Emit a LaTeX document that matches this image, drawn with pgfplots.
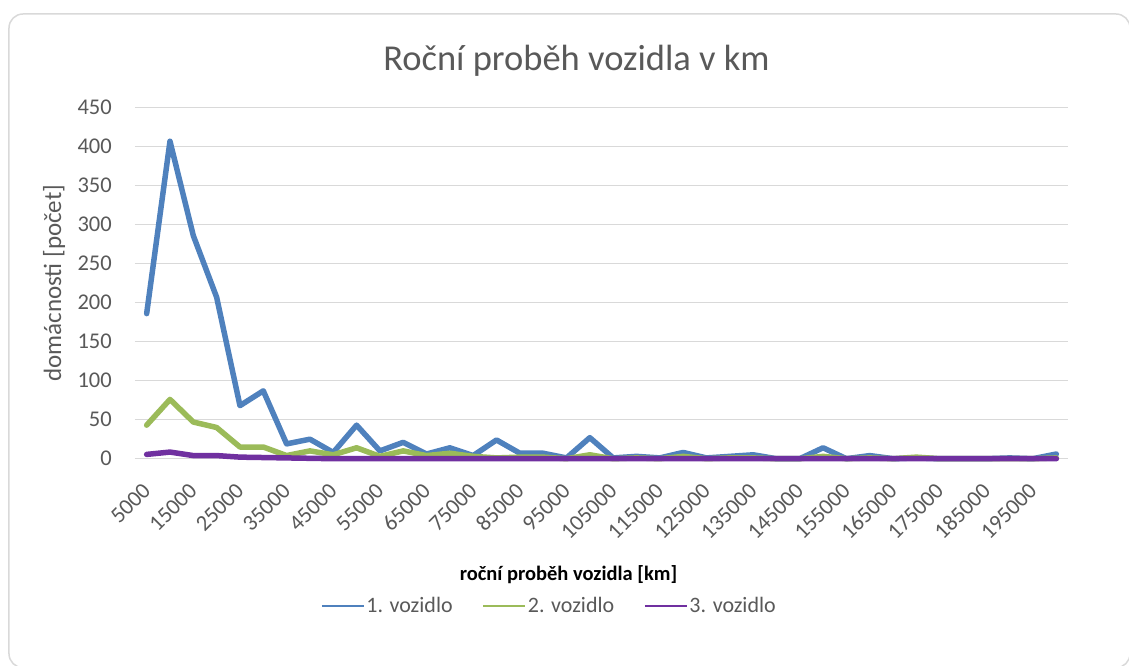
\documentclass[border=0pt]{standalone}
\usepackage{pgfplots}
\pgfplotsset{compat=1.18}
\usepackage{fontspec}
\setmainfont{Carlito}
\definecolor{s1}{HTML}{4F81BD}
\definecolor{s2}{HTML}{9BBB59}
\definecolor{s3}{HTML}{7030A0}
\definecolor{grd}{HTML}{D9D9D9}
\definecolor{txt}{HTML}{595959}
\begin{document}
\begin{tikzpicture}
\path[use as bounding box] (-135pt,-207.3pt) rectangle (994pt,458.7pt);
\draw[grd, line width=1.5pt, rounded corners=14pt] (-126pt,444.7pt) rectangle (995pt,-209pt);
\begin{axis}[
  scale only axis, width=933pt, height=351pt,
  xmin=-0.5, xmax=39.5, ymin=0, ymax=450,
  ytick={0,50,...,450},
  xtick={0,2,...,38},
  xticklabels={5000,15000,25000,35000,45000,55000,65000,75000,85000,95000,105000,115000,125000,135000,145000,155000,165000,175000,185000,195000},
  major tick length=0pt,
  /pgf/number format/assume math mode=true,
  ymajorgrids, major grid style={grd, line width=1.3pt},
  axis x line*=bottom, axis y line*=left,
  x axis line style={grd, line width=1.3pt},
  y axis line style={draw=none},
  clip=false,
  tick label style={font=\fontsize{22.5}{27}\selectfont, text=txt},
  yticklabel style={anchor=east, inner sep=0pt},
  yticklabel shift=23pt,
  xticklabel style={rotate=45, anchor=east, inner sep=0pt},
  xticklabel shift=28pt,
  title={Roční proběh vozidla v km},
  title style={at={(axis description cs:0.4732,1.088)}, anchor=base, font=\fontsize{36.5}{44}\selectfont, text=txt},
  ylabel={domácnosti [počet]},
  ylabel style={at={(axis description cs:-0.0868,0.5)}, anchor=center, font=\fontsize{25}{30}\selectfont, text=txt},
  xlabel={roční proběh vozidla [km]},
  xlabel style={at={(axis description cs:0.4646,-0.3476)}, anchor=base, font=\bfseries\fontsize{20.5}{25}\selectfont, text=black},
  legend columns=3,
  legend image code/.code={\draw[#1, line width=2.2pt, line cap=butt] (0pt,0pt) -- (42pt,0pt);},
  legend style={at={(axis description cs:0.4437,-0.4197)}, anchor=center, draw=none, fill=none,
    font=\fontsize{22}{26}\selectfont, text=txt, nodes={inner sep=1.5pt},
    /tikz/every even column/.append style={column sep=28pt}},
  every axis plot/.append style={line width=5.5pt, line join=round, line cap=round, mark=none},
]
\addplot[s1] coordinates {
(0,186) (1,407) (2,286) (3,207) (4,68) (5,87) (6,19) (7,25) (8,8) (9,43)
(10,10) (11,21) (12,6) (13,14) (14,4) (15,24) (16,7) (17,7) (18,1) (19,27)
(20,1) (21,3) (22,1) (23,8) (24,1) (25,3) (26,5) (27,0) (28,0) (29,14)
(30,0) (31,4) (32,0) (33,1) (34,0) (35,0) (36,0) (37,1) (38,0) (39,6)};
\addlegendentry{1. vozidlo}
\addplot[s2] coordinates {
(0,43) (1,76) (2,47) (3,40) (4,15) (5,15) (6,4) (7,10) (8,5) (9,14)
(10,3) (11,10) (12,4) (13,7) (14,3) (15,1) (16,2) (17,2) (18,0) (19,5)
(20,0) (21,1) (22,0) (23,3) (24,0) (25,1) (26,1) (27,0) (28,0) (29,3)
(30,0) (31,1) (32,0) (33,2) (34,0) (35,0) (36,0) (37,0) (38,0) (39,1)};
\addlegendentry{2. vozidlo}
\addplot[s3] coordinates {
(0,5.5) (1,8.5) (2,4) (3,4) (4,2) (5,1.5) (6,1) (7,0.5) (8,0) (9,0)
(10,0) (11,0) (12,0) (13,0) (14,0) (15,0) (16,0) (17,0) (18,0) (19,0)
(20,0) (21,0) (22,0) (23,0) (24,0) (25,0) (26,0) (27,0) (28,0) (29,0)
(30,0) (31,0) (32,0) (33,0) (34,0) (35,0) (36,0) (37,0) (38,0) (39,0)};
\addlegendentry{3. vozidlo}
\end{axis}
\end{tikzpicture}
\end{document}
